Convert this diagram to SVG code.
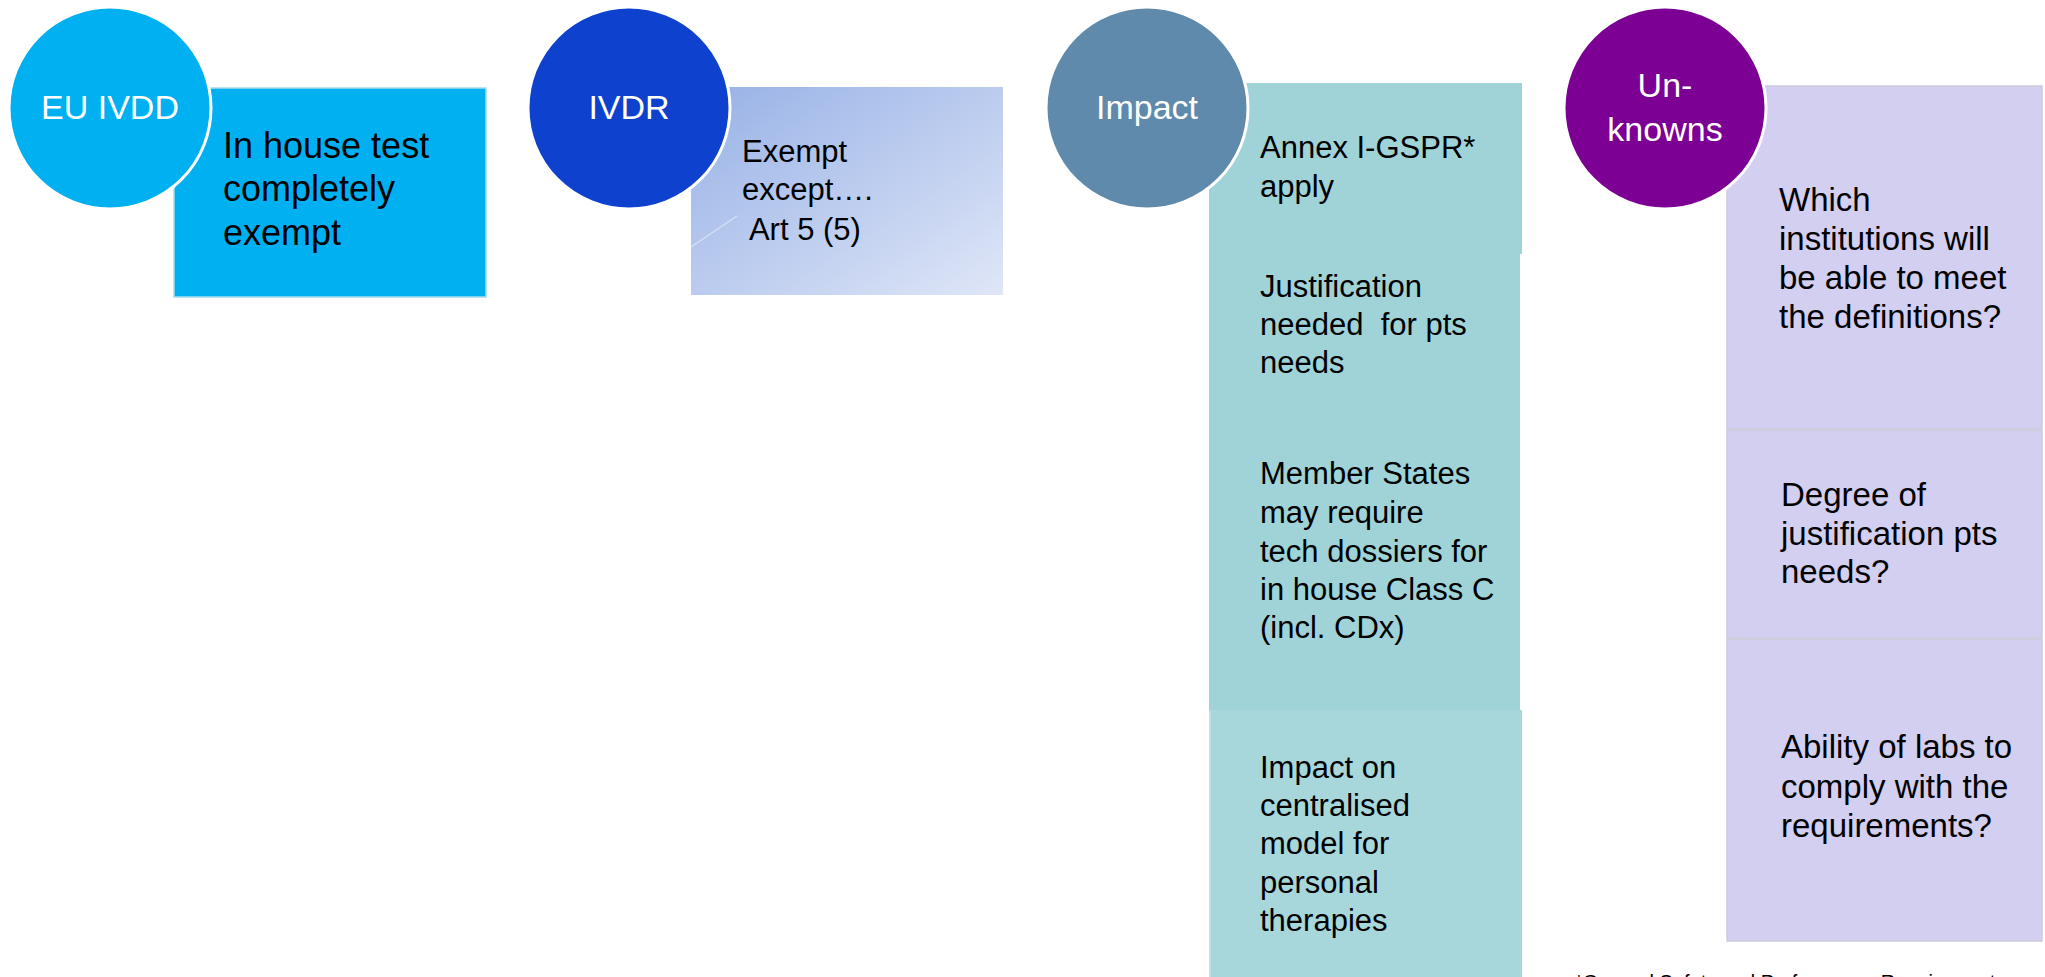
<svg xmlns="http://www.w3.org/2000/svg" width="2045" height="977" viewBox="0 0 2045 977">
  <style>
    .hub { stroke: #ffffff; stroke-width: 3; }
    .hub-label { font-family: "Liberation Sans", Arial, sans-serif; font-size: 34px; fill: #ffffff; text-anchor: middle; }
    .body { font-family: "Liberation Sans", Arial, sans-serif; fill: #000000; }
    .teal { fill: #9fd3d8; }
    .lilac { fill: #d3cff0; stroke: #cdcbdc; stroke-width: 1.5; }
  </style>
  <defs>
    <linearGradient id="ivdrFill" x1="0" y1="0" x2="1" y2="1">
      <stop offset="0" stop-color="#97b1e6"/>
      <stop offset="1" stop-color="#dfe6f7"/>
    </linearGradient>
  </defs>

  <rect width="2045" height="977" fill="#ffffff"/>

  <!-- connectors: none in this layout -->
  <g id="connectors"/>

  <!-- column 1: EU IVDD -->
  <g id="ivdd-box">
    <rect x="174" y="88" width="312" height="209" fill="#00b0f0" stroke="#a6dcec" stroke-width="1.5"/>
    <text class="body" font-size="36" x="223" y="158">In house test</text>
    <text class="body" font-size="36" x="223" y="201">completely</text>
    <text class="body" font-size="36" x="223" y="245">exempt</text>
  </g>
  <g id="ivdd-hub">
    <circle class="hub" cx="110" cy="108" r="101" fill="#00b0f0"/>
    <text class="hub-label" x="110" y="119">EU IVDD</text>
  </g>

  <!-- column 2: IVDR -->
  <g id="ivdr-box">
    <rect x="691" y="87" width="312" height="208" fill="url(#ivdrFill)"/>
    <line x1="691" y1="247" x2="737" y2="216" stroke="#ffffff" stroke-opacity="0.45" stroke-width="1.5"/>
    <text class="body" font-size="31" x="742" y="162">Exempt</text>
    <text class="body" font-size="31" x="742" y="200">except….</text>
    <text class="body" font-size="31" x="742" y="240" xml:space="preserve"> Art 5 (5)</text>
  </g>
  <g id="ivdr-hub">
    <circle class="hub" cx="629" cy="108" r="101" fill="#0e41cd"/>
    <text class="hub-label" x="629" y="119">IVDR</text>
  </g>

  <!-- column 3: Impact -->
  <g id="impact-gspr">
    <rect class="teal" x="1209" y="83" width="313" height="171"/>
    <text class="body" font-size="31" x="1260" y="158">Annex I-GSPR*</text>
    <text class="body" font-size="31" x="1260" y="197">apply</text>
  </g>
  <g id="impact-justification">
    <rect class="teal" x="1209" y="253" width="311" height="458"/>
    <text class="body" font-size="31" x="1260" y="297">Justification</text>
    <text class="body" font-size="31" x="1260" y="335" xml:space="preserve">needed  for pts</text>
    <text class="body" font-size="31" x="1260" y="373">needs</text>
    <text class="body" font-size="31" x="1260" y="484">Member States</text>
    <text class="body" font-size="31" x="1260" y="523">may require</text>
    <text class="body" font-size="31" x="1260" y="562">tech dossiers for</text>
    <text class="body" font-size="31" x="1260" y="600">in house Class C</text>
    <text class="body" font-size="31" x="1260" y="638">(incl. CDx)</text>
  </g>
  <g id="impact-centralised">
    <rect x="1209" y="710" width="313" height="267" fill="#a8d7db"/>
    <line x1="1210" y1="711" x2="1210" y2="977" stroke="#c4e6e8" stroke-width="1.5"/>
    <text class="body" font-size="31" x="1260" y="778">Impact on</text>
    <text class="body" font-size="31" x="1260" y="816">centralised</text>
    <text class="body" font-size="31" x="1260" y="854">model for</text>
    <text class="body" font-size="31" x="1260" y="893">personal</text>
    <text class="body" font-size="31" x="1260" y="931">therapies</text>
  </g>
  <g id="impact-hub">
    <circle class="hub" cx="1147" cy="108" r="101" fill="#5f8aab"/>
    <text class="hub-label" x="1147" y="119">Impact</text>
  </g>

  <!-- column 4: Unknowns -->
  <g id="unknowns-institutions">
    <rect class="lilac" x="1727" y="86" width="315" height="343"/>
    <text class="body" font-size="33" x="1779" y="211">Which</text>
    <text class="body" font-size="33" x="1779" y="250">institutions will</text>
    <text class="body" font-size="33" x="1779" y="289">be able to meet</text>
    <text class="body" font-size="33" x="1779" y="328">the definitions?</text>
  </g>
  <g id="unknowns-justification">
    <rect class="lilac" x="1727" y="430" width="315" height="208"/>
    <text class="body" font-size="33" x="1781" y="506">Degree of</text>
    <text class="body" font-size="33" x="1781" y="545">justification pts</text>
    <text class="body" font-size="33" x="1781" y="583">needs?</text>
  </g>
  <g id="unknowns-compliance">
    <rect class="lilac" x="1727" y="639" width="315" height="302" fill="#cfcaee"/>
    <text class="body" font-size="33" x="1781" y="758">Ability of labs to</text>
    <text class="body" font-size="33" x="1781" y="798">comply with the</text>
    <text class="body" font-size="33" x="1781" y="837">requirements?</text>
  </g>
  <g id="unknowns-hub">
    <circle class="hub" cx="1665" cy="108" r="101" fill="#7c0093"/>
    <text class="hub-label" x="1665" y="97">Un-</text>
    <text class="hub-label" x="1665" y="141">knowns</text>
  </g>

  <!-- footnote, running off the lower edge -->
  <text class="body" font-size="20" x="1575" y="989">*General Safety and Performance Requirements</text>
</svg>
